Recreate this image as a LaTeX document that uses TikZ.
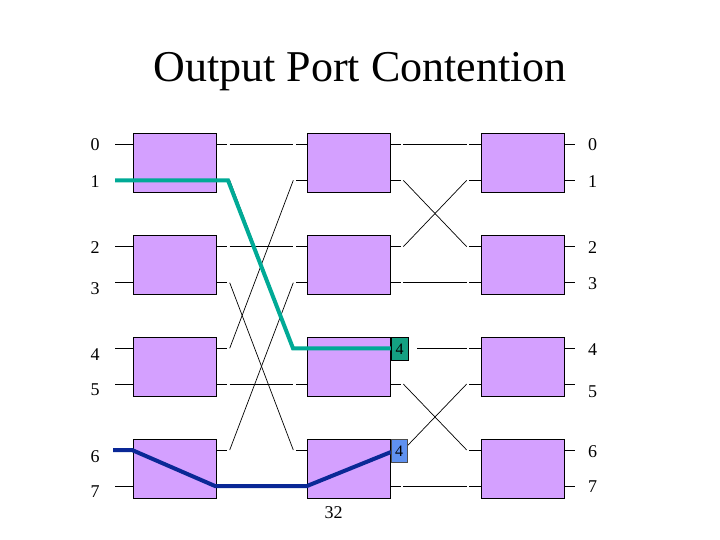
\documentclass[tikz,border=0pt]{standalone}
\usepackage{fontspec}
\setmainfont{Liberation Serif}
\definecolor{swfill}{RGB}{212,160,255}
\definecolor{tealp}{RGB}{0,170,150}
\definecolor{bluep}{RGB}{10,40,150}
\definecolor{tealbox}{RGB}{20,160,130}
\definecolor{bluebox}{RGB}{95,145,240}
\tikzset{
  swbox/.style={draw=black, fill=swfill, line width=0.9pt, minimum width=83.4pt, minimum height=59pt, inner sep=0pt},
  wire/.style={line width=0.7pt, black},
  plabel/.style={inner sep=0pt, font=\fontsize{18}{20}\selectfont},
  tagbox/.style={draw=black, line width=0.7pt, inner sep=0pt, font=\fontsize{16}{18}\selectfont},
  pathline/.style={line width=4pt, line join=miter}
}
\begin{document}
\begin{tikzpicture}[x=1pt,y=-1pt]
\useasboundingbox (0,0) rectangle (720,540);
% title
\node[anchor=base, inner sep=0pt, font=\fontsize{44}{50}\selectfont] (title) at (360,82) {Output Port Contention};
% row y values
\def\yA{144.3}\def\yB{180.3}\def\yC{246.7}\def\yD{282.7}
\def\yE{348.3}\def\yF{384}\def\yG{450}\def\yH{486}
\foreach \r/\y in {0/144.3,1/180.3,2/246.7,3/282.7,4/348.3,5/384,6/450,7/486}{
  % stub coordinates
  \coordinate (a0-\r) at (115,\y);   \coordinate (b0-\r) at (133.3,\y);
  \coordinate (c0-\r) at (216.7,\y); \coordinate (d0-\r) at (227,\y);
  \coordinate (a1-\r) at (296,\y);   \coordinate (b1-\r) at (307.3,\y);
  \coordinate (c1-\r) at (390.7,\y); \coordinate (d1-\r) at (401,\y);
  \coordinate (a2-\r) at (469,\y);   \coordinate (b2-\r) at (481,\y);
  \coordinate (c2-\r) at (564.7,\y); \coordinate (d2-\r) at (575,\y);
  % connector ends
  \coordinate (s1o-\r) at (229.7,\y); \coordinate (s1i-\r) at (293.3,\y);
  \coordinate (s2o-\r) at (403.3,\y); \coordinate (s2i-\r) at (466.7,\y);
  \foreach \c in {0,1,2}{
    \draw[wire] (a\c-\r) -- (b\c-\r);
    \draw[wire] (c\c-\r) -- (d\c-\r);
  }
}
\coordinate (s2o-4x) at (417,348.3);
% stage 1 wiring
\foreach \f/\t in {0/0,1/4,2/2,3/6,4/1,5/5,6/3,7/7}{
  \draw[wire] (s1o-\f) -- (s1i-\t);
}
% stage 2 wiring
\foreach \f/\t in {0/0,1/2,2/1,3/3,5/6,6/5,7/7}{
  \draw[wire] (s2o-\f) -- (s2i-\t);
}
\draw[wire] (s2o-4x) -- (s2i-4);
% switch boxes
\foreach \c/\x in {0/175,1/349,2/522.8}{
  \node[swbox] (sw\c-0) at (\x,162.8) {};
  \node[swbox] (sw\c-1) at (\x,265) {};
  \node[swbox] (sw\c-2) at (\x,366.8) {};
  \node[swbox] (sw\c-3) at (\x,468.8) {};
}
% port labels
\foreach \r/\yl/\yr in {0/145/145,1/181.7/181.7,2/247.7/247.7,3/289/283.3,4/355/350,5/390/391.7,6/456.7/451.7,7/491.7/486.7}{
  \node[plabel] (inl-\r) at (95,\yl) {\r};
  \node[plabel] (outl-\r) at (592.7,\yr) {\r};
}
% highlighted paths
\coordinate (t0) at (115,180.3);
\coordinate (t1) at (228,180.3);
\coordinate (t2) at (293,348.3);
\coordinate (t3) at (391,348.3);
\draw[pathline, tealp] (t0) -- (t1) -- (t2) -- (t3);
\coordinate (u0) at (113,450);
\coordinate (u1) at (132,450);
\coordinate (u2) at (215,486);
\coordinate (u3) at (307,486);
\coordinate (u4) at (391,452);
\draw[pathline, bluep] (u0) -- (u1) -- (u2) -- (u3) -- (u4);
% tag boxes
\node[tagbox, fill=tealbox, minimum width=17pt, minimum height=22.5pt] (tag1) at (399.6,349) {4};
\node[tagbox, fill=bluebox, draw=black!70, minimum width=16pt, minimum height=23pt] (tag2) at (399.2,450.8) {4};
% page number
\node[plabel] (pg) at (333.7,512.7) {32};
\end{tikzpicture}
\end{document}
